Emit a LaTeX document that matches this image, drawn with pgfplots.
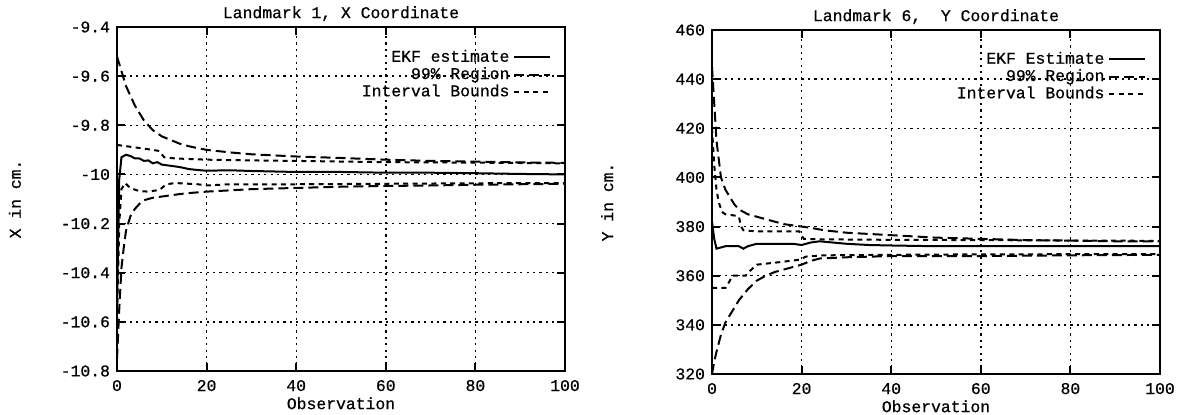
\documentclass[border=0pt]{standalone}
\usepackage{fontspec}
\setmainfont{Liberation Mono}[FakeBold=0.6]
\setmonofont{Liberation Mono}
\usepackage{pgfplots}
\pgfplotsset{compat=1.18}

\pgfplotsset{
  ekfax/.style={
    scale only axis, width=224bp, height=172bp,
    xmin=0, xmax=100, xtick={0,20,40,60,80,100},
    axis line style={line width=1bp},
    tick style={line width=1bp, black},
    major tick length=4bp,
    tick align=inside,
    grid=major,
    major grid style={black, line width=0.7pt, dash pattern=on 1.1bp off 2.1bp},
    /pgf/number format/assume math mode=true,
    tick label style={font=\fontsize{8.2bp}{9bp}\selectfont},
    xticklabel style={yshift=-1bp},
    label style={font=\fontsize{8.2bp}{9bp}\selectfont},
    title style={font=\fontsize{8.2bp}{9bp}\selectfont, yshift=-6.5bp},
    xlabel style={yshift=3.8bp},
    legend cell align=right,
    legend plot pos=right,
    legend style={draw=none, fill=none, anchor=north east,
      font=\fontsize{8.2bp}{9bp}\selectfont, row sep=-2.8pt, inner sep=1pt},
    legend image code/.code={\draw[#1] (0bp,0bp) -- (18bp,0bp);},
  },
  ekf/.style={black, line width=1bp},
  reg/.style={black, line width=1bp, dash pattern=on 5bp off 2.5bp},
  ivb/.style={black, line width=1bp, dash pattern=on 2.5bp off 2.2bp},
}

\begin{document}
\begin{tikzpicture}
\useasboundingbox (0,0) rectangle (589bp,207.5bp);

\begin{axis}[ekfax,
  at={(58.5bp,22bp)}, anchor=south west,
  ymin=-10.8, ymax=-9.4,
  ytick={-10.8,-10.6,-10.4,-10.2,-10,-9.8,-9.6,-9.4},
  yticklabels={-10.8,-10.6,-10.4,-10.2,-10,-9.8,-9.6,-9.4},
  title={Landmark 1, X Coordinate},
  xlabel={Observation},
  ylabel={X in cm.},
  ylabel style={at={(axis description cs:-0.228,0.5)}, anchor=center},
  legend style={at={(0.975,0.952)}},
]
\addplot[ekf] coordinates {
 (0,-10.55) (0.5,-10.02) (1,-9.93) (2,-9.92) (3,-9.925) (4,-9.935) (5,-9.935)
 (6,-9.945) (7,-9.943) (8,-9.955) (9,-9.95) (10,-9.96) (12,-9.965) (14,-9.97)
 (16,-9.978) (18,-9.982) (20,-9.985) (25,-9.983) (30,-9.986) (35,-9.988)
 (40,-9.99) (50,-9.99) (60,-9.993) (70,-9.993) (80,-9.995) (90,-9.998) (100,-10.0)};
\addlegendentry{EKF estimate}
\addplot[reg] coordinates {
 (0,-9.52) (1,-9.58) (2,-9.64) (3,-9.68) (4,-9.72) (5,-9.75) (6,-9.78) (7,-9.80)
 (8,-9.82) (10,-9.845) (12,-9.86) (14,-9.875) (16,-9.885) (18,-9.893) (20,-9.9)
 (25,-9.91) (30,-9.918) (40,-9.927) (50,-9.933) (60,-9.94) (70,-9.945)
 (80,-9.948) (90,-9.951) (100,-9.953)};
\addlegendentry{99\% Region}
\addplot[ivb] coordinates {
 (0,-9.88) (2,-9.885) (4,-9.89) (6,-9.895) (8,-9.9) (9.5,-9.905) (10.5,-9.93)
 (13,-9.935) (20,-9.94) (30,-9.943) (40,-9.945) (60,-9.95) (80,-9.952) (100,-9.955)};
\addlegendentry{Interval Bounds}
\addplot[reg, forget plot] coordinates {
 (0,-10.75) (0.5,-10.55) (1,-10.38) (1.5,-10.3) (2,-10.23) (3,-10.17) (4,-10.14)
 (5,-10.12) (6,-10.105) (8,-10.095) (10,-10.09) (12,-10.085) (14,-10.08)
 (16,-10.076) (18,-10.073) (20,-10.07) (25,-10.065) (30,-10.06) (40,-10.055)
 (50,-10.05) (60,-10.047) (70,-10.045) (80,-10.042) (90,-10.04) (100,-10.038)};
\addplot[ivb, forget plot] coordinates {
 (0,-10.6) (0.5,-10.2) (1,-10.06) (1.8,-10.035) (3,-10.056) (5,-10.068) (7,-10.07)
 (9.5,-10.063) (11,-10.04) (13,-10.035) (18,-10.04) (20,-10.045) (25,-10.04)
 (40,-10.04) (60,-10.038) (80,-10.036) (100,-10.035)};
\end{axis}

\begin{axis}[ekfax,
  at={(356bp,20.5bp)}, anchor=south west,
  ymin=320, ymax=460,
  ytick={320,340,360,380,400,420,440,460},
  title={Landmark 6,\ \ Y Coordinate},
  xlabel={Observation},
  ylabel={Y in cm.},
  ylabel style={at={(axis description cs:-0.234,0.5)}, anchor=center},
  legend style={at={(0.975,0.955)}},
]
\addplot[ekf] coordinates {
 (0,382) (0.5,375) (1,371) (2,371.5) (3,372) (4,372) (5,372) (6,372) (7,371)
 (8,372) (10,373) (12,373) (15,373) (18,373) (20,372.5) (22,373.5) (24,374)
 (27,373.5) (30,373) (35,372.5) (40,372.3) (50,372) (60,372) (70,372) (80,372)
 (90,372) (100,372)};
\addlegendentry{EKF Estimate}
\addplot[reg] coordinates {
 (0,445) (0.5,430) (1,415) (2,400) (3,395) (4,392) (5,389) (6,387) (7,386)
 (8,385) (9,384.5) (10,384) (12,383) (14,382) (16,381) (18,380.5) (20,380)
 (22,379.5) (25,378.5) (30,377.5) (40,376.5) (50,375.5) (60,375) (70,374.5)
 (80,374.3) (90,374) (100,374)};
\addlegendentry{99\% Region}
\addplot[ivb] coordinates {
 (0,420) (0.5,405) (1,395) (1.5,390) (2.2,386) (3,385) (5,384.5) (6,384)
 (6.5,380) (7,378.5) (10,378) (15,378) (19.5,378) (20.5,375) (25,374.8)
 (40,374.6) (60,374.5) (80,374.3) (100,374.2)};
\addlegendentry{Interval Bounds}
\addplot[reg, forget plot] coordinates {
 (0,320) (0.5,325) (1,329) (2,336) (3,341) (4,344) (5,347) (6,350) (8,354.5)
 (10,358) (12,360) (14,361.5) (16,362.5) (18,363.5) (20,364.5) (22,366)
 (24,367) (30,367.5) (40,368) (60,368) (80,368.3) (100,368.5)};
\addplot[ivb, forget plot] coordinates {
 (0,355) (3,355) (4,358) (4.5,360) (7.5,360) (8.5,362) (10,364.5) (15,365.5)
 (19.5,366.5) (21,367.8) (25,368.3) (40,368.5) (60,368.7) (100,368.8)};
\end{axis}
\end{tikzpicture}
\end{document}
